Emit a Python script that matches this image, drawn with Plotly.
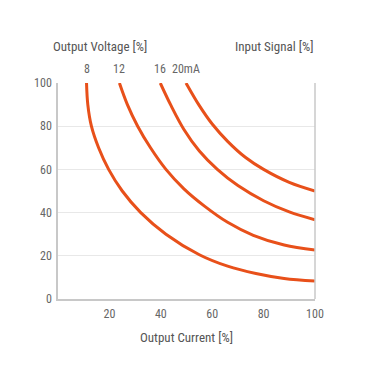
import plotly.graph_objects as go

# Data
signal_labels = ["8", "12", "16", "20mA"]

current_8 = [11.1, 11.6, 13, 15.8, 19.7, 25, 32.2, 42, 55, 66, 77, 88, 100]
voltage_8 = [100, 90, 80, 70, 60, 50, 40, 30, 20.5, 15.2, 11.8, 9.5, 8.3]

current_12 = [23.9, 27, 31, 36, 42, 49, 57, 66, 76, 88, 100]
voltage_12 = [100, 90, 80, 70, 60, 51, 43, 35.5, 29.5, 25, 22.7]

current_16 = [39.8, 44, 49, 55, 62, 70, 80, 90, 100]
voltage_16 = [100, 89.5, 78.5, 68.5, 60, 52.5, 45.5, 40.3, 36.7]

current_20 = [49.8, 55, 60, 66, 73, 80, 90, 100]
voltage_20 = [100, 89.5, 81, 73, 65.5, 60, 54, 50]

x_ticks = [20, 40, 60, 80, 100]
y_ticks = [0, 20, 40, 60, 80, 100]

series = [(current_8, voltage_8), (current_12, voltage_12),
          (current_16, voltage_16), (current_20, voltage_20)]

ORANGE = "#e8501a"
GRAY_TXT = "#666666"
FONT = "Roboto Condensed, Liberation Sans Narrow, Roboto, sans-serif"

fig = go.Figure()
for (xs, ys), name in zip(series, signal_labels):
    fig.add_trace(go.Scatter(
        x=xs, y=ys, mode="lines", name=name,
        line=dict(color=ORANGE, width=3, shape="spline", smoothing=1.0),
        hoverinfo="skip", showlegend=False,
    ))

annotations = []
for (xs, ys), name in zip(series, signal_labels):
    annotations.append(dict(
        x=xs[0], y=1.065, xref="x", yref="paper", text=name, showarrow=False,
        xanchor="center", yanchor="middle",
        font=dict(family=FONT, size=12, color=GRAY_TXT)))

annotations += [
    dict(x=(100 - 58.5) / 256.5, y=1.171, xref="paper", yref="paper",
         text="Output Voltage [%]", showarrow=False, xanchor="center", yanchor="middle",
         font=dict(family=FONT, size=13, color="#555555")),
    dict(x=1.0, y=1.171, xref="paper", yref="paper",
         text="Input Signal [%]", showarrow=False, xanchor="right", yanchor="middle",
         font=dict(family=FONT, size=13, color="#555555")),
    dict(x=0.5, y=-0.18, xref="paper", yref="paper",
         text="Output Current [%]", showarrow=False, xanchor="center", yanchor="middle",
         font=dict(family=FONT, size=13, color="#555555")),
]

fig.update_layout(
    width=354, height=354,
    margin=dict(l=50, r=47, t=75, b=63, pad=0),
    paper_bgcolor="white", plot_bgcolor="white",
    font=dict(family=FONT, size=12, color=GRAY_TXT),
    annotations=annotations,
    shapes=[dict(type="line", xref="paper", yref="paper", x0=1, x1=1, y0=0, y1=1,
                 line=dict(color="#c8c8c8", width=1.5), layer="above")],
    xaxis=dict(range=[0, 100], tickvals=x_ticks, showgrid=False, zeroline=False,
               showline=True, linecolor="#c8c8c8", linewidth=1.5,
               ticks="", ticklabelstandoff=3, fixedrange=True),
    yaxis=dict(range=[0, 100], tickvals=y_ticks, showgrid=True, gridcolor="#e8e8e8",
               gridwidth=1, zeroline=False, showline=True, linecolor="#c8c8c8",
               linewidth=1.5, ticks="", ticklabelstandoff=2, fixedrange=True),
)

fig.write_html("out.html")
